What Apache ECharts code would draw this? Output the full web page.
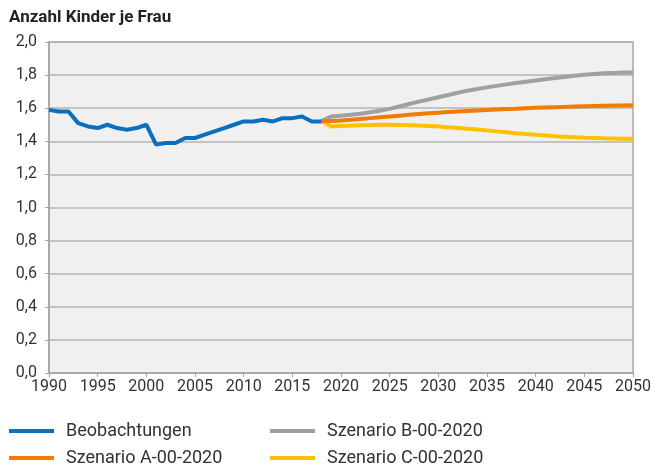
<!DOCTYPE html>
<html>
<head>
<meta charset="utf-8">
<script src="https://cdn.jsdelivr.net/npm/echarts@6/dist/echarts.min.js"></script>
<style>
  html, body { margin: 0; padding: 0; background: #fff; }
  #chart { width: 654px; height: 468px; }
</style>
</head>
<body>
<div id="chart"></div>
<script>
// ==================== Data ====================
const obsYears = [1990, 1991, 1992, 1993, 1994, 1995, 1996, 1997, 1998, 1999,
    2000, 2001, 2002, 2003, 2004, 2005, 2006, 2007, 2008, 2009,
    2010, 2011, 2012, 2013, 2014, 2015, 2016, 2017, 2018];
const obsValues = [1.59, 1.58, 1.58, 1.51, 1.49, 1.48, 1.50, 1.48, 1.47, 1.48,
    1.50, 1.38, 1.39, 1.39, 1.42, 1.42, 1.44, 1.46, 1.48, 1.50,
    1.52, 1.52, 1.53, 1.52, 1.54, 1.54, 1.55, 1.52, 1.52];

const scenYears = [2018, 2019, 2020, 2021, 2022, 2023, 2024, 2025, 2026, 2027,
    2028, 2029, 2030, 2031, 2032, 2033, 2034, 2035, 2036, 2037,
    2038, 2039, 2040, 2041, 2042, 2043, 2044, 2045, 2046, 2047,
    2048, 2049, 2050];
const scenA = [1.522, 1.522, 1.525, 1.530, 1.535, 1.540, 1.545, 1.550, 1.555, 1.560,
    1.565, 1.569, 1.573, 1.577, 1.580, 1.583, 1.586, 1.589, 1.592, 1.595,
    1.597, 1.600, 1.602, 1.604, 1.606, 1.608, 1.610, 1.612, 1.614, 1.615,
    1.616, 1.617, 1.618];
const scenB = [1.522, 1.550, 1.555, 1.560, 1.567, 1.575, 1.585, 1.596, 1.610, 1.625,
    1.640, 1.653, 1.666, 1.680, 1.693, 1.706, 1.716, 1.726, 1.735, 1.744,
    1.752, 1.760, 1.767, 1.775, 1.782, 1.789, 1.796, 1.802, 1.807, 1.811,
    1.813, 1.815, 1.816];
const scenC = [1.522, 1.490, 1.493, 1.495, 1.497, 1.499, 1.500, 1.500, 1.499, 1.497,
    1.495, 1.492, 1.489, 1.485, 1.481, 1.476, 1.471, 1.466, 1.460, 1.455,
    1.449, 1.444, 1.440, 1.435, 1.431, 1.428, 1.425, 1.422, 1.420, 1.418,
    1.417, 1.416, 1.416];

const COLORS = {
    obs: '#0a6fbd',
    a: '#f07d00',
    b: '#a0a0a0',
    c: '#ffc000'
};

// ==================== Helpers ====================
function pairs(xs, ys) {
    return xs.map((x, i) => [x, ys[i]]);
}

function lineSeries(name, data, color) {
    return {
        name: name,
        type: 'line',
        data: data,
        showSymbol: false,
        symbol: 'none',
        lineStyle: { width: 4, color: color },
        itemStyle: { color: color },
        animation: false
    };
}

function legendItem(name, left, top) {
    return {
        data: [name],
        left: left,
        top: top,
        icon: 'rect',
        itemWidth: 45,
        itemHeight: 4,
        itemGap: 0,
        textStyle: { fontFamily: 'Roboto', fontSize: 18, color: '#333', padding: [0, 0, 0, 7] },
        selectedMode: false
    };
}

// ==================== Chart ====================
const chart = echarts.init(document.getElementById('chart'));
chart.setOption({
    backgroundColor: '#fff',
    title: {
        text: 'Anzahl Kinder je Frau',
        left: 4,
        top: 4,
        textStyle: { fontFamily: 'Roboto', fontSize: 17, fontWeight: 'bold', color: '#222' }
    },
    grid: {
        left: 49, right: 21, top: 42, bottom: 95,
        show: true,
        backgroundColor: '#f0f0f0',
        borderColor: '#a6a6a6',
        borderWidth: 1.5
    },
    legend: [
        legendItem('Beobachtungen', 4, 417),
        legendItem('Szenario B-00-2020', 265, 417),
        legendItem('Szenario A-00-2020', 4, 444),
        legendItem('Szenario C-00-2020', 265, 444)
    ],
    xAxis: {
        type: 'value',
        min: 1990, max: 2050, interval: 5,
        axisLine: { show: true, lineStyle: { color: '#a6a6a6', width: 1.5 } },
        axisTick: { show: true, length: 4, lineStyle: { color: '#a6a6a6' } },
        splitLine: { show: false },
        axisLabel: {
            fontFamily: 'Roboto', fontSize: 16, color: '#333', margin: 6,
            formatter: v => String(v)
        }
    },
    yAxis: {
        type: 'value',
        min: 0, max: 2, interval: 0.2,
        axisLine: { show: true, lineStyle: { color: '#a6a6a6', width: 1.5 } },
        axisTick: { show: true, length: 4, lineStyle: { color: '#a6a6a6' } },
        splitLine: { show: true, lineStyle: { color: '#b4b4b4', width: 1.5 } },
        axisLabel: {
            fontFamily: 'Roboto', fontSize: 16, color: '#333', margin: 12,
            formatter: v => v.toFixed(1).replace('.', ',')
        }
    },
    series: [
        lineSeries('Szenario C-00-2020', pairs(scenYears, scenC), COLORS.c),
        lineSeries('Szenario B-00-2020', pairs(scenYears, scenB), COLORS.b),
        lineSeries('Szenario A-00-2020', pairs(scenYears, scenA), COLORS.a),
        lineSeries('Beobachtungen', pairs(obsYears, obsValues), COLORS.obs)
    ]
});

window.addEventListener('resize', () => chart.resize());
</script>
</body>
</html>
